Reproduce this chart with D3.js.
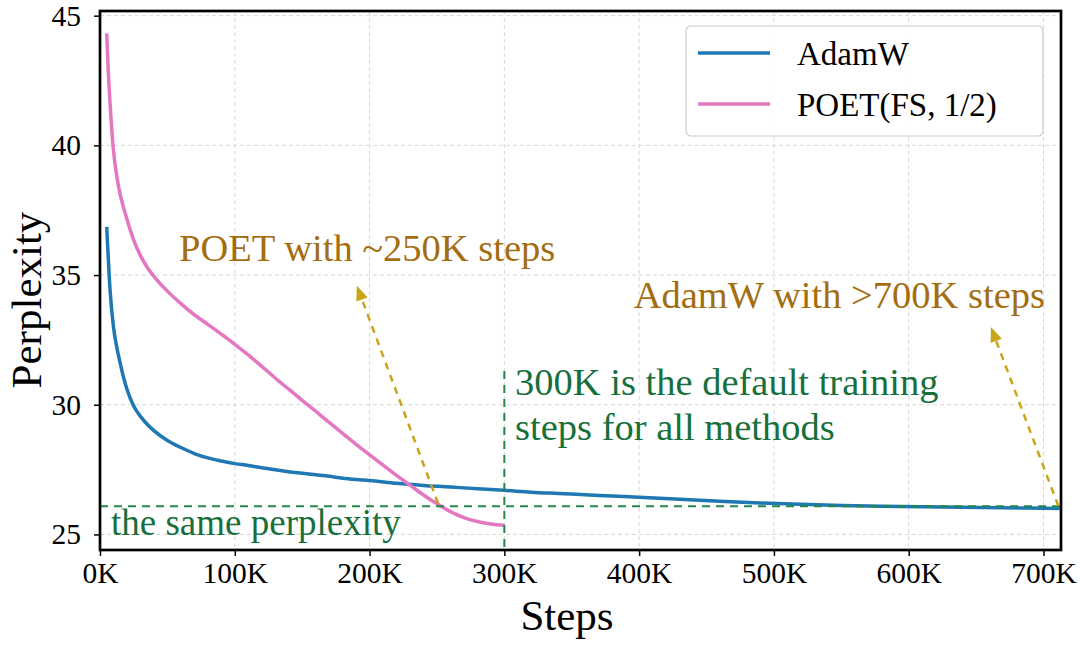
<!DOCTYPE html>
<html>
<head>
<meta charset="utf-8">
<script src="https://cdn.jsdelivr.net/npm/d3@7"></script>
<style>
  body { margin: 0; background: #fff; }
  svg text { font-family: "Liberation Serif", "Times New Roman", serif; }
</style>
</head>
<body>
<svg width="1080" height="645"></svg>
<script>
// values (steps, perplexity)
const adamwSteps = [5000, 7500, 10000, 12500, 15000, 17500, 20000, 25000, 30000, 35000, 40000, 50000, 60000, 70000, 80000, 90000,
  100000, 110000, 120000, 130000, 140000, 150000, 160000, 170000, 180000, 190000, 200000, 220000, 240000, 260000, 280000, 300000,
  320000, 340000, 360000, 380000, 400000, 430000, 460000, 490000, 520000, 550000, 580000, 610000, 640000, 670000, 700000, 712000];
const adamwPpl = [36.86, 34.4, 33.0, 32.2, 31.6, 31.05, 30.6, 29.95, 29.55, 29.25, 29.0, 28.62, 28.35, 28.12, 27.95, 27.83,
  27.73, 27.66, 27.57, 27.49, 27.42, 27.36, 27.3, 27.24, 27.17, 27.12, 27.08, 26.97, 26.89, 26.83, 26.76, 26.7,
  26.63, 26.58, 26.53, 26.48, 26.43, 26.36, 26.28, 26.21, 26.16, 26.12, 26.09, 26.07, 26.05, 26.03, 26.01, 26.0];

const poetSteps = [5000, 6000, 7500, 10000, 12500, 15000, 17500, 20000, 25000, 30000, 35000, 40000, 50000, 60000, 70000, 80000,
  90000, 100000, 110000, 120000, 130000, 140000, 150000, 160000, 170000, 180000, 190000, 200000, 210000, 220000, 230000,
  240000, 250000, 260000, 270000, 280000, 290000, 300000];
const poetPpl = [44.32, 43.0, 41.6, 39.8, 38.8, 38.1, 37.6, 37.15, 36.35, 35.75, 35.3, 34.95, 34.38, 33.9, 33.47, 33.1,
  32.72, 32.33, 31.92, 31.48, 31.03, 30.6, 30.17, 29.75, 29.32, 28.9, 28.47, 28.07, 27.67, 27.28, 26.9,
  26.52, 26.18, 25.88, 25.65, 25.5, 25.4, 25.35];

const seriesNames = ["AdamW", "POET(FS, 1/2)"];
const seriesColors = ["#1f77b4", "#e377c2"];
const xTicks = [0, 100000, 200000, 300000, 400000, 500000, 600000, 700000];
const yTicks = [25, 30, 35, 40, 45];

// reference lines and arrows
const samePpl = 26.09;
const defaultSteps = 300000;
const defaultTop = 31.3;
const arrowFrom = [[250800, 26.2], [711000, 26.1]];
const arrowTo = [[190500, 34.6], [661000, 33.0]];

const svg = d3.select("svg");
const plotLeft = 100, plotRight = 1061, plotTop = 11, plotBottom = 550;

const x = d3.scaleLinear().domain([0, 713000]).range([plotLeft, plotRight]);
const y = d3.scaleLinear().domain([24.4, 45.18]).range([plotBottom, plotTop]);

const green = "#17703c";
const gold = "#a36d10";
const arrowColor = "#c9a51a";

// grid
svg.append("g").selectAll("line")
  .data(xTicks).enter().append("line")
  .attr("x1", d => x(d)).attr("x2", d => x(d))
  .attr("y1", plotTop).attr("y2", plotBottom)
  .attr("stroke", "#d8d8d8").attr("stroke-width", 1).attr("stroke-dasharray", "4,3");
svg.append("g").selectAll("line")
  .data(yTicks).enter().append("line")
  .attr("x1", plotLeft).attr("x2", plotRight)
  .attr("y1", d => y(d)).attr("y2", d => y(d))
  .attr("stroke", "#d8d8d8").attr("stroke-width", 1).attr("stroke-dasharray", "4,3");

// axes
svg.append("g")
  .attr("transform", "translate(0," + plotBottom + ")")
  .call(d3.axisBottom(x).tickValues(xTicks).tickFormat(d => d / 1000 + "K").tickSize(6).tickSizeOuter(0))
  .call(g => g.select(".domain").remove())
  .call(g => g.selectAll("line").attr("stroke", "#000").attr("stroke-width", 1.5))
  .call(g => g.selectAll("text").attr("dy", null).attr("y", 33)
    .attr("font-size", 29.5).attr("fill", "#000"));

svg.append("g")
  .attr("transform", "translate(" + plotLeft + ",0)")
  .call(d3.axisLeft(y).tickValues(yTicks).tickSize(6).tickSizeOuter(0))
  .call(g => g.select(".domain").remove())
  .call(g => g.selectAll("line").attr("stroke", "#000").attr("stroke-width", 1.5))
  .call(g => g.selectAll("text").attr("x", -19)
    .attr("font-size", 29.5).attr("fill", "#000"));

svg.append("text")
  .text("Steps")
  .attr("x", 567).attr("y", 630)
  .attr("text-anchor", "middle")
  .attr("font-size", 43);

svg.append("text")
  .text("Perplexity")
  .attr("transform", "translate(41,300) rotate(-90)")
  .attr("text-anchor", "middle")
  .attr("font-size", 43);

// curves
const line = d3.line().x(d => x(d[0])).y(d => y(d[1])).curve(d3.curveMonotoneX);
const curves = [d3.zip(adamwSteps, adamwPpl), d3.zip(poetSteps, poetPpl)];

svg.append("g").selectAll("path")
  .data(curves).enter().append("path")
  .attr("d", line)
  .attr("fill", "none")
  .attr("stroke", (d, i) => seriesColors[i])
  .attr("stroke-width", 3.5)
  .attr("stroke-linejoin", "round");

// green dashed reference lines
svg.append("line")
  .attr("x1", plotLeft).attr("x2", plotRight)
  .attr("y1", y(samePpl)).attr("y2", y(samePpl))
  .attr("stroke", "#22894a").attr("stroke-width", 2).attr("stroke-dasharray", "8,6");
svg.append("line")
  .attr("x1", x(defaultSteps)).attr("x2", x(defaultSteps))
  .attr("y1", y(defaultTop)).attr("y2", plotBottom)
  .attr("stroke", "#22894a").attr("stroke-width", 2).attr("stroke-dasharray", "8,6");

// dashed arrows
const headLen = 15, headW = 12;
arrowFrom.forEach((f, i) => {
  const p0 = [x(f[0]), y(f[1])];
  const p1 = [x(arrowTo[i][0]), y(arrowTo[i][1])];
  const len = Math.hypot(p1[0] - p0[0], p1[1] - p0[1]);
  const u = [(p1[0] - p0[0]) / len, (p1[1] - p0[1]) / len];
  const n = [-u[1], u[0]];
  const base = [p1[0] - u[0] * headLen, p1[1] - u[1] * headLen];
  svg.append("line")
    .attr("x1", p0[0]).attr("y1", p0[1])
    .attr("x2", base[0]).attr("y2", base[1])
    .attr("stroke", arrowColor).attr("stroke-width", 2.5).attr("stroke-dasharray", "7,6");
  svg.append("polygon")
    .attr("points", [p1,
      [base[0] + n[0] * headW / 2, base[1] + n[1] * headW / 2],
      [base[0] - n[0] * headW / 2, base[1] - n[1] * headW / 2]].map(p => p.join(",")).join(" "))
    .attr("fill", arrowColor);
});

// annotation text
svg.append("text").text("POET with ~250K steps")
  .attr("x", 179).attr("y", 261).attr("font-size", 38.5).attr("fill", gold);
svg.append("text").text("AdamW with >700K steps")
  .attr("x", 1045).attr("y", 308).attr("text-anchor", "end").attr("font-size", 38.5).attr("fill", gold);
svg.append("text").text("300K is the default training")
  .attr("x", 515).attr("y", 395).attr("font-size", 38.5).attr("fill", green);
svg.append("text").text("steps for all methods")
  .attr("x", 515).attr("y", 440).attr("font-size", 38.5).attr("fill", green);
svg.append("text").text("the same perplexity")
  .attr("x", 111).attr("y", 535).attr("font-size", 37).attr("fill", green);

// legend
const legend = svg.append("g");
legend.append("rect")
  .attr("x", 686).attr("y", 26).attr("width", 357).attr("height", 110).attr("rx", 5)
  .attr("fill", "#fff").attr("fill-opacity", 0.85).attr("stroke", "#cccccc").attr("stroke-width", 1.2);
const items = legend.selectAll("g.item")
  .data(seriesNames).enter().append("g")
  .attr("class", "item")
  .attr("transform", (d, i) => "translate(0," + (i * 51) + ")");
items.append("line")
  .attr("x1", 698).attr("x2", 770).attr("y1", 53).attr("y2", 53)
  .attr("stroke", (d, i) => seriesColors[i]).attr("stroke-width", 3.5);
items.append("text")
  .text(d => d)
  .attr("x", 797).attr("y", 65)
  .attr("font-size", 33);

// frame on top
svg.append("rect")
  .attr("x", plotLeft).attr("y", plotTop).attr("width", plotRight - plotLeft).attr("height", plotBottom - plotTop)
  .attr("fill", "none").attr("stroke", "#000").attr("stroke-width", 2.7);
</script>
</body>
</html>
